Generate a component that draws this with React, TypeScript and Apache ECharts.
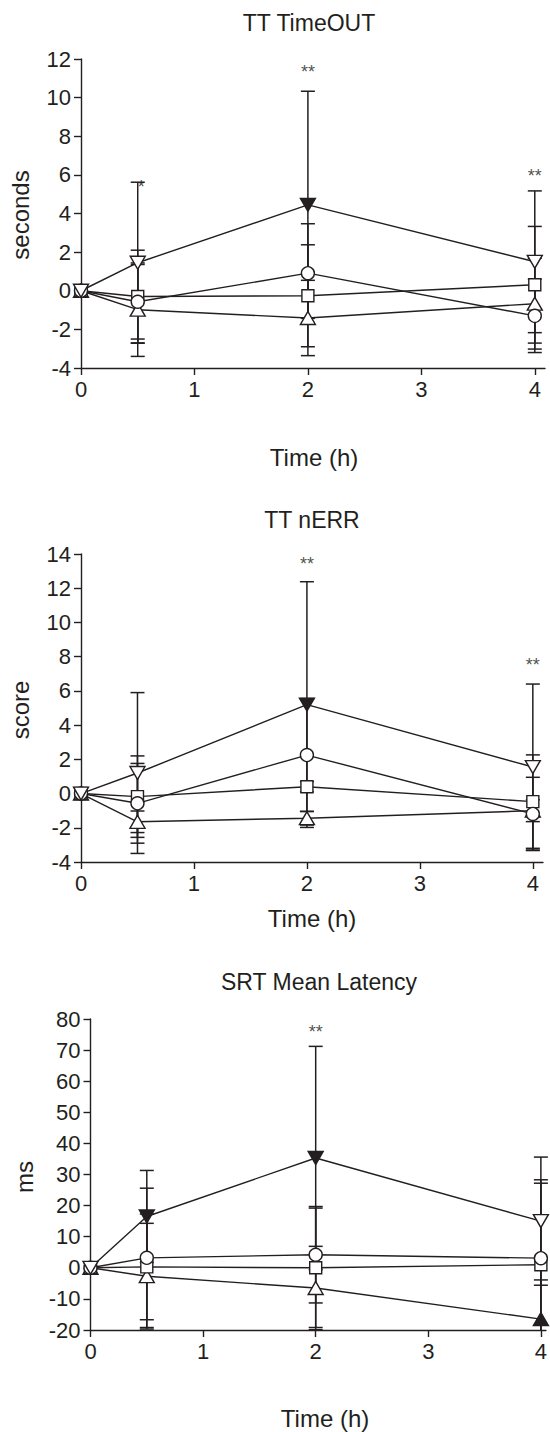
import React, { useEffect, useRef } from "react";
import * as echarts from "echarts";

// ---------- data ----------
const times = [0, 0.5, 2, 4];
const xTickValues = [0, 1, 2, 3, 4];

// Panel 1: TT TimeOUT (seconds)
const p1Title = "TT TimeOUT";
const p1YName = "seconds";
const p1YTicks = [-4, 12, 2];
const p1Circle = [0, -0.57, 0.91, -1.3];
const p1CircleSD = [0, 1.93, 2.56, 1.9];
const p1Square = [0, -0.3, -0.26, 0.31];
const p1SquareSD = [0, 2.4, 2.64, 3.02];
const p1TriUp = [0, -0.98, -1.41, -0.67];
const p1TriUpSD = [0, 2.42, 1.95, 2.35];
const p1TriDown = [0, 1.45, 4.45, 1.5];
const p1TriDownSD = [0, 4.17, 5.88, 3.67];
const p1TriUpFilled = [false, false, false, false];
const p1TriDownFilled = [false, false, true, false];
const p1SigX = [0.53, 2, 4];
const p1SigY = [5.6, 11.55, 6.15];
const p1SigText = ["*", "**", "**"];

// Panel 2: TT nERR (score)
const p2Title = "TT nERR";
const p2YName = "score";
const p2YTicks = [-4, 14, 2];
const p2Circle = [0, -0.57, 2.25, -1.19];
const p2CircleSD = [0, 2.33, 3.3, 2.14];
const p2Square = [0, -0.18, 0.4, -0.47];
const p2SquareSD = [0, 2.38, 0.3, 2.73];
const p2TriUp = [0, -1.65, -1.44, -1.0];
const p2TriUpSD = [0, 0.63, 0.4, 0.64];
const p2TriDown = [0, 1.2, 5.2, 1.55];
const p2TriDownSD = [0, 4.7, 7.18, 4.85];
const p2TriUpFilled = [false, false, false, false];
const p2TriDownFilled = [false, false, true, false];
const p2SigX = [2, 4];
const p2SigY = [13.65, 7.75];
const p2SigText = ["**", "**"];

// Panel 3: SRT Mean Latency (ms)
const p3Title = "SRT Mean Latency";
const p3YName = "ms";
const p3YTicks = [-20, 80, 10];
const p3Circle = [0, 3.2, 4.2, 3.1];
const p3CircleSD = [0, 22.4, 15.5, 25.2];
const p3Square = [0, 0.3, 0, 1.0];
const p3SquareSD = [0, 17, 19.2, 26.2];
const p3TriUp = [0, -2.7, -6.5, -16.5];
const p3TriUpSD = [0, 17, 13.4, 12.6];
const p3TriDown = [0, 16.5, 35.3, 15];
const p3TriDownSD = [0, 14.8, 35.9, 20.6];
const p3TriUpFilled = [false, false, false, true];
const p3TriDownFilled = [false, true, true, false];
const p3SigX = [2];
const p3SigY = [77.1];
const p3SigText = ["**"];

// ---------- styling / layout ----------
const INK = "#231f20";
const FONT = "Liberation Sans";

const panels = [
  {
    title: p1Title, yName: p1YName, yTicks: p1YTicks,
    circle: p1Circle, circleSD: p1CircleSD, square: p1Square, squareSD: p1SquareSD,
    triUp: p1TriUp, triUpSD: p1TriUpSD, triDown: p1TriDown, triDownSD: p1TriDownSD,
    triUpFilled: p1TriUpFilled, triDownFilled: p1TriDownFilled,
    sigX: p1SigX, sigY: p1SigY, sigText: p1SigText,
    left: 81, top: 59, height: 309, width: 464, xMax: 4.09,
    titlePos: [309, 23], xNamePos: [314, 457], yNamePos: [20, 215],
  },
  {
    title: p2Title, yName: p2YName, yTicks: p2YTicks,
    circle: p2Circle, circleSD: p2CircleSD, square: p2Square, squareSD: p2SquareSD,
    triUp: p2TriUp, triUpSD: p2TriUpSD, triDown: p2TriDown, triDownSD: p2TriDownSD,
    triUpFilled: p2TriUpFilled, triDownFilled: p2TriDownFilled,
    sigX: p2SigX, sigY: p2SigY, sigText: p2SigText,
    left: 81, top: 554, height: 308, width: 462, xMax: 4.09,
    titlePos: [312, 520], xNamePos: [312, 918], yNamePos: [20, 710],
  },
  {
    title: p3Title, yName: p3YName, yTicks: p3YTicks,
    circle: p3Circle, circleSD: p3CircleSD, square: p3Square, squareSD: p3SquareSD,
    triUp: p3TriUp, triUpSD: p3TriUpSD, triDown: p3TriDown, triDownSD: p3TriDownSD,
    triUpFilled: p3TriUpFilled, triDownFilled: p3TriDownFilled,
    sigX: p3SigX, sigY: p3SigY, sigText: p3SigText,
    left: 90.5, top: 1019, height: 311, width: 459.5, xMax: 4.045,
    titlePos: [319, 982], xNamePos: [325, 1418], yNamePos: [24, 1177],
  },
];

function buildOption() {
  const grid: any[] = [];
  const xAxis: any[] = [];
  const yAxis: any[] = [];
  const series: any[] = [];
  const graphic: any[] = [];

  panels.forEach((p, gi) => {
    const [yMin, yMax, yInt] = p.yTicks;
    grid.push({
      left: p.left,
      top: p.top,
      width: p.width,
      height: p.height,
      containLabel: false,
    });
    xAxis.push({
      type: "value",
      gridIndex: gi,
      min: 0,
      max: p.xMax,
      interval: 1,
      axisLine: { show: true, onZero: false, lineStyle: { color: INK, width: 1.4 } },
      axisTick: { show: true, length: 7, lineStyle: { color: INK, width: 1.4 }, customValues: xTickValues },
      axisLabel: {
        color: INK, fontSize: 22, fontFamily: FONT, margin: 10,
        customValues: xTickValues,
        formatter: (v: number) => String(v),
      },
      splitLine: { show: false },
    });
    yAxis.push({
      type: "value",
      gridIndex: gi,
      min: yMin,
      max: yMax,
      interval: yInt,
      axisLine: { show: true, onZero: false, lineStyle: { color: INK, width: 1.4 } },
      axisTick: { show: true, length: 7, lineStyle: { color: INK, width: 1.4 } },
      axisLabel: { color: INK, fontSize: 22, fontFamily: FONT, margin: 10 },
      splitLine: { show: false },
    });

    const groups = [
      { vals: p.triUp, sd: p.triUpSD, symbol: "triangle", size: [15, 13], rot: 0, filled: p.triUpFilled },
      { vals: p.square, sd: p.squareSD, symbol: "rect", size: 12, rot: 0, filled: [false, false, false, false] },
      { vals: p.circle, sd: p.circleSD, symbol: "circle", size: 13, rot: 0, filled: [false, false, false, false] },
      { vals: p.triDown, sd: p.triDownSD, symbol: "triangle", size: [15, 13], rot: 180, filled: p.triDownFilled },
    ];

    groups.forEach((g) => {
      // error bars (mean ± SD)
      series.push({
        type: "custom",
        xAxisIndex: gi,
        yAxisIndex: gi,
        z: 1,
        silent: true,
        encode: { x: 0, y: [1, 2] },
        data: times.map((t, i) => [t, g.vals[i] - g.sd[i], g.vals[i] + g.sd[i]]),
        renderItem: (params: any, api: any) => {
          const x = api.value(0);
          const lo = api.value(1);
          const hi = api.value(2);
          if (hi - lo <= 0) return { type: "group", children: [] };
          const top = api.coord([x, Math.min(hi, yMax)]);
          const bot = api.coord([x, Math.max(lo, yMin)]);
          const hw = 7;
          const st = { stroke: INK, lineWidth: 1.5 };
          const children: any[] = [
            { type: "line", shape: { x1: top[0], y1: top[1], x2: bot[0], y2: bot[1] }, style: st },
          ];
          if (hi <= yMax)
            children.push({ type: "line", shape: { x1: top[0] - hw, y1: top[1], x2: top[0] + hw, y2: top[1] }, style: st });
          if (lo >= yMin)
            children.push({ type: "line", shape: { x1: bot[0] - hw, y1: bot[1], x2: bot[0] + hw, y2: bot[1] }, style: st });
          return { type: "group", children };
        },
      });
      // group means
      series.push({
        type: "line",
        xAxisIndex: gi,
        yAxisIndex: gi,
        z: 3,
        symbol: g.symbol,
        symbolSize: g.size,
        symbolRotate: g.rot,
        showAllSymbol: true,
        lineStyle: { color: INK, width: 1.4 },
        itemStyle: { color: "#ffffff", borderColor: INK, borderWidth: 1.4 },
        emphasis: { disabled: true },
        data: times.map((t, i) => ({
          value: [t, g.vals[i]],
          itemStyle: g.filled[i] ? { color: INK, borderColor: INK } : undefined,
        })),
      });
    });

    // significance marks
    series.push({
      type: "scatter",
      xAxisIndex: gi,
      yAxisIndex: gi,
      z: 4,
      symbolSize: 0,
      silent: true,
      data: p.sigX.map((x, i) => ({ value: [x, p.sigY[i]], name: p.sigText[i] })),
      label: {
        show: true,
        position: "inside",
        offset: [0, 4],
        formatter: (d: any) => d.name,
        color: INK,
        fontSize: 18,
        fontFamily: FONT,
      },
    });

    graphic.push(
      {
        type: "text",
        x: p.titlePos[0],
        y: p.titlePos[1],
        style: { text: p.title, fill: INK, font: `23px "${FONT}"`, textAlign: "center", textVerticalAlign: "middle", verticalAlign: "middle" },
      },
      {
        type: "text",
        x: p.xNamePos[0],
        y: p.xNamePos[1],
        style: { text: "Time (h)", fill: INK, font: `24px "${FONT}"`, textAlign: "center", textVerticalAlign: "middle", verticalAlign: "middle" },
      },
      {
        type: "text",
        x: p.yNamePos[0],
        y: p.yNamePos[1],
        rotation: Math.PI / 2,
        style: { text: p.yName, fill: INK, font: `24px "${FONT}"`, textAlign: "center", textVerticalAlign: "middle", verticalAlign: "middle" },
      }
    );
  });

  return {
    animation: false,
    backgroundColor: "#ffffff",
    textStyle: { fontFamily: FONT },
    grid,
    xAxis,
    yAxis,
    series,
    graphic,
  };
}

export default function App() {
  const ref = useRef<HTMLDivElement>(null);
  useEffect(() => {
    document.body.style.margin = "0";
    const chart = echarts.init(ref.current as HTMLDivElement, null, { renderer: "svg" });
    chart.setOption(buildOption() as any);
    return () => chart.dispose();
  }, []);
  return <div ref={ref} style={{ width: 550, height: 1432, background: "#fff" }} />;
}
